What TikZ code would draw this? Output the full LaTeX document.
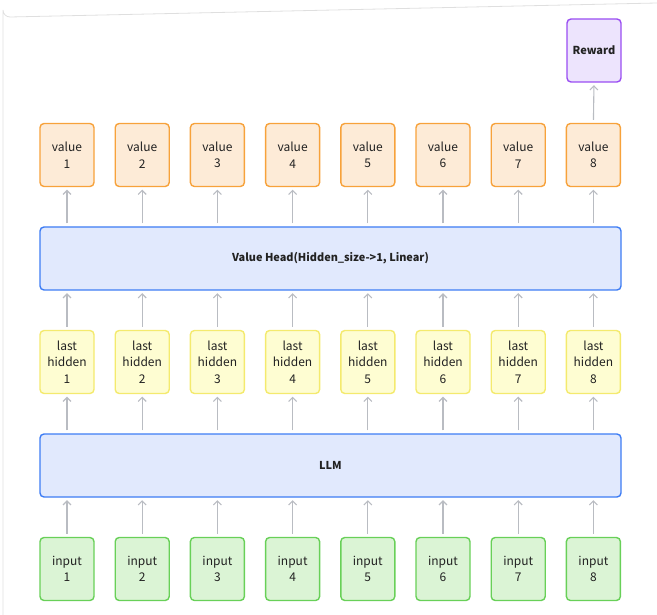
\documentclass[tikz,border=0pt]{standalone}
\usepackage{fontspec}
\setmainfont{Noto Sans CJK SC}
\usetikzlibrary{arrows.meta}

\definecolor{valfill}{HTML}{FDEBD7}
\definecolor{valdraw}{HTML}{F7A23B}
\definecolor{rewfill}{HTML}{EDE4FD}
\definecolor{rewdraw}{HTML}{9A4DF2}
\definecolor{blufill}{HTML}{E1E9FD}
\definecolor{bludraw}{HTML}{3D7CF4}
\definecolor{hidfill}{HTML}{FEFDD2}
\definecolor{hiddraw}{HTML}{F4EA6E}
\definecolor{inpfill}{HTML}{DBF4D5}
\definecolor{inpdraw}{HTML}{68D058}
\definecolor{arrgray}{HTML}{B9BCC2}
\definecolor{txt}{HTML}{222222}

\tikzset{
  box/.style={draw, line width=1.4pt, rounded corners=4pt, minimum width=54pt,
    minimum height=63pt, inner sep=0pt, align=center, text=txt,
    font=\fontsize{12}{16.5}\selectfont},
  valbox/.style={box, fill=valfill, draw=valdraw},
  rewbox/.style={box, fill=rewfill, draw=rewdraw, font=\fontsize{11}{16}\selectfont\bfseries},
  hidbox/.style={box, fill=hidfill, draw=hiddraw},
  inpbox/.style={box, fill=inpfill, draw=inpdraw},
  bigbox/.style={box, fill=blufill, draw=bludraw, minimum width=581pt,
    font=\fontsize{10.9}{14}\selectfont\bfseries},
  uparr/.style={draw=arrgray, line width=1.1pt, -{Straight Barb[length=4pt,width=8pt]},
    shorten <=3pt, shorten >=2.5pt}
}

\begin{document}
\begin{tikzpicture}[x=1pt, y=-1pt]
			\useasboundingbox (0,0) rectangle (657,615);

			% frame
			\draw[gray!25, line width=0.8pt] (3,615) -- (3,10) arc[start angle=180, end angle=90, radius=7] -- (657,3);

			% big blocks
			\node[bigbox] (head) at (330.5,258.5) {Value Head(Hidden\_size->1, Linear)};
			\node[bigbox] (llm) at (330.5,465.5) {LLM};

			% columns
			\foreach \i in {1,...,8}{
				\pgfmathsetmacro{\cx}{67+75.2*(\i-1)}
				\node[valbox] (v\i) at (\cx,155) {value\\\i};
				\node[hidbox] (h\i) at (\cx,362) {last\\hidden\\\i};
				\node[inpbox] (in\i) at (\cx,569) {input\\\i};

				\draw[uparr] (in\i.north) -- (in\i.north |- llm.south);
				\draw[uparr] (llm.north -| h\i.south) -- (h\i.south);
				\draw[uparr] (h\i.north) -- (h\i.north |- head.south);
				\draw[uparr] (head.north -| v\i.south) -- (v\i.south);
			}

			% reward
			\node[rewbox] (reward) at (594,50.5) {Reward};
			\draw[uparr] (v8.north) -- (reward.south);
		\end{tikzpicture}
\end{document}
